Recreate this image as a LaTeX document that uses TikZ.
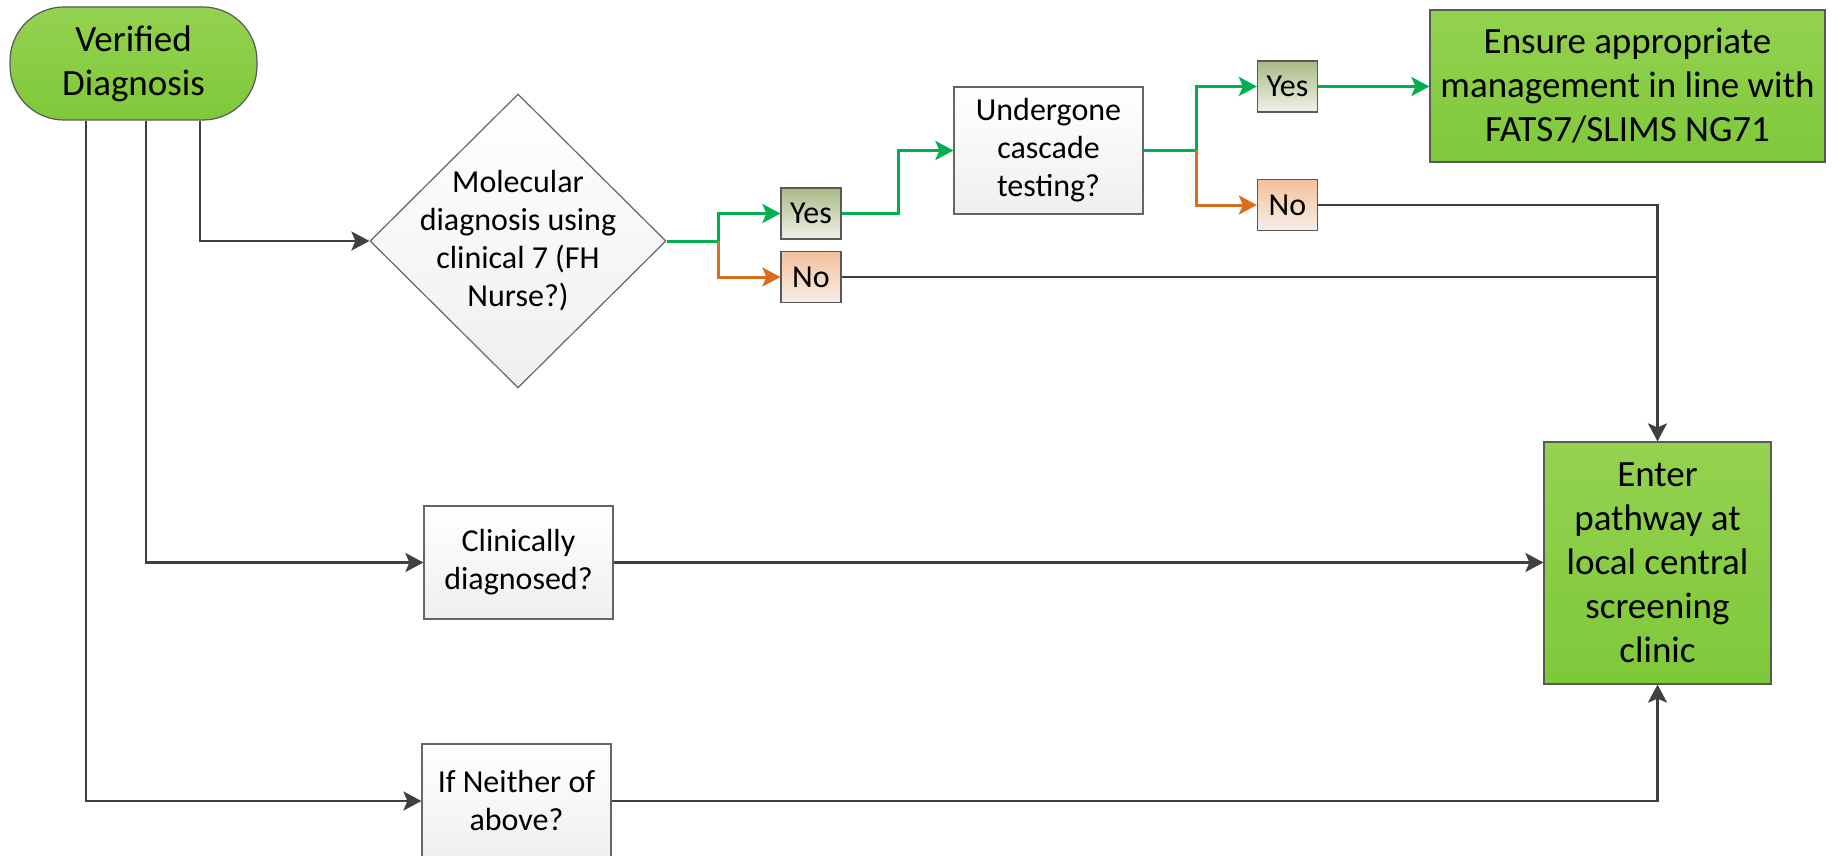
\documentclass[tikz,border=0pt]{standalone}
\usepackage{fontspec}
\setmainfont{Carlito}
\usetikzlibrary{arrows.meta,positioning,shapes.geometric}

\definecolor{greentop}{HTML}{94D250}
\definecolor{greenbot}{HTML}{7EC83A}
\definecolor{yestop}{HTML}{A9BA85}
\definecolor{yesbot}{HTML}{F0F2EA}
\definecolor{notop}{HTML}{F4C19C}
\definecolor{nobot}{HTML}{F6EEE8}
\definecolor{greytop}{HTML}{FFFFFF}
\definecolor{greybot}{HTML}{EFEFEF}
\definecolor{linegreen}{HTML}{00B050}
\definecolor{lineorange}{HTML}{DB6E1E}
\definecolor{linedark}{HTML}{404040}

\tikzset{
    greenbox/.style={draw=black!65,line width=0.6pt,top color=greentop,bottom color=greenbot,
        align=center,inner sep=0pt,font=\fontsize{18.5}{22}\selectfont},
    greybox/.style={draw=black!60,line width=0.6pt,top color=greytop,bottom color=greybot,
        align=center,inner sep=0pt,minimum width=94.5pt},
    yesbox/.style={draw=black!65,line width=0.6pt,top color=yestop,bottom color=yesbot,
        inner sep=0pt,minimum width=30pt,minimum height=25.5pt},
    nobox/.style={draw=black!65,line width=0.6pt,top color=notop,bottom color=nobot,
        inner sep=0pt,minimum width=30pt,minimum height=25.5pt},
    decision/.style={diamond,aspect=1,draw=black!60,line width=0.6pt,top color=greytop,
        bottom color=greybot,inner sep=0pt,minimum width=148pt,minimum height=147pt},
    yesline/.style={draw=linegreen,line width=1.5pt},
    noline/.style={draw=lineorange,line width=1.5pt},
    darkline/.style={draw=linedark,line width=1.3pt}
}

\begin{document}
\begin{tikzpicture}[x=0.5pt,y=-0.5pt,>={Stealth[length=9pt,width=9.5pt,inset=2pt]},
    font=\fontsize{16}{19}\selectfont]
    \useasboundingbox (0,0) rectangle (1843,856);

    % Start and end points
    \node[greenbox,rounded corners=27pt,minimum width=123.5pt,minimum height=56.5pt]
        (ver) at (133.5,63.5) {Verified\\Diagnosis};
    \node[greenbox,minimum width=197.5pt,minimum height=76pt] (ens) at (1627.5,86)
        {Ensure appropriate\\management in line with\\FATS7/SLIMS NG71};
    \node[greenbox,minimum width=113.5pt,minimum height=121pt] (enter) at (1657.5,563)
        {Enter\\pathway at\\local central\\screening\\clinic};

    % Questions
    \node[decision] (dia) at (518,241) {};
    \node[align=center] (diatext) at (dia) {Molecular\\diagnosis using\\clinical 7 (FH\\Nurse?)};
    \node[greybox,minimum height=63.5pt] (casc) at (1048.5,150.5) {Undergone\\cascade\\testing?};
    \node[greybox,minimum height=56.5pt] (clin) at (518.5,562.5) {Clinically\\diagnosed?};
    \node[greybox,minimum height=57pt] (neith) at (516.5,801) {If Neither of\\above?};

    % Answers
    \node[yesbox] (yes1) at (811,213.5) {Yes};
    \node[nobox] (no1) at (811,277) {No};
    \node[yesbox] (yes2) at (1287.5,86.5) {Yes};
    \node[nobox] (no2) at (1287.5,205) {No};

    \coordinate[right=26pt of dia.east] (split1);
    \coordinate[right=26.5pt of casc.east] (split2);

    \draw[darkline,->] (ver.south) ++(66.5,0) |- (dia.west);
    \draw[darkline,->] (ver.south) ++(12.5,0) |- (clin.west);
    \draw[darkline,->] (ver.south) ++(-47.5,0) |- (neith.west);

    \draw[yesline,->] (dia.east) -- (split1) |- (yes1.west);
    \draw[noline,->] (split1) |- (no1.west);
    \draw[yesline,->] (yes1.east) -- ++(57,0) |- (casc.west);
    \draw[yesline,->] (casc.east) -- (split2) |- (yes2.west);
    \draw[noline,->] (split2) |- (no2.west);
    \draw[yesline,->] (yes2.east) -- (yes2.east -| ens.west);

    \draw[darkline,->] (no2.east) -| (enter.north);
    \draw[darkline] (no1.east) -- (no1.east -| enter.north);
    \draw[darkline,->] (clin.east) -- (clin.east -| enter.west);
    \draw[darkline,->] (neith.east) -| (enter.south);
\end{tikzpicture}
\end{document}
